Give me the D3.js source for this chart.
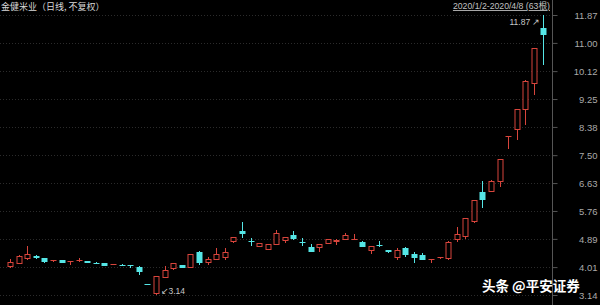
<!DOCTYPE html>
<html><head><meta charset="utf-8">
<script src="https://cdn.jsdelivr.net/npm/d3@7/dist/d3.min.js"></script>
<style>html,body{margin:0;padding:0;background:#000;overflow:hidden}</style>
</head><body><svg id="c" width="600" height="305"></svg>
<script>
const dates = ["2020-01-02","2020-01-03","2020-01-06","2020-01-07","2020-01-08","2020-01-09","2020-01-10","2020-01-13","2020-01-14","2020-01-15","2020-01-16","2020-01-17","2020-01-20","2020-01-21","2020-01-22","2020-01-23",
"2020-02-03","2020-02-04","2020-02-05","2020-02-06","2020-02-07","2020-02-10","2020-02-11","2020-02-12","2020-02-13","2020-02-14","2020-02-17","2020-02-18","2020-02-19","2020-02-20","2020-02-21","2020-02-24","2020-02-25","2020-02-26","2020-02-27","2020-02-28",
"2020-03-02","2020-03-03","2020-03-04","2020-03-05","2020-03-06","2020-03-09","2020-03-10","2020-03-11","2020-03-12","2020-03-13","2020-03-16","2020-03-17","2020-03-18","2020-03-19","2020-03-20","2020-03-23","2020-03-24","2020-03-25","2020-03-26","2020-03-27","2020-03-30","2020-03-31",
"2020-04-01","2020-04-02","2020-04-03","2020-04-07","2020-04-08"];
const open  = [4.02,4.12,4.26,4.36,4.29,4.19,4.23,4.20,4.21,4.20,4.15,4.13,4.08,4.09,4.06,4.02,3.48,3.17,3.68,3.94,4.08,3.99,4.49,4.13,4.23,4.28,4.78,5.14,4.81,4.65,4.54,4.70,4.83,5.01,4.78,4.65,4.60,4.73,4.78,4.86,4.87,4.80,4.52,4.71,4.54,4.28,4.60,4.41,4.39,4.26,4.28,4.25,4.86,4.96,5.43,6.36,6.36,6.67,8.10,8.29,8.91,9.72,11.46];
const high  = [4.26,4.38,4.67,4.39,4.30,4.23,4.24,4.21,4.29,4.21,4.16,4.14,4.11,4.10,4.06,4.03,3.49,3.74,4.05,4.14,4.09,4.42,4.51,4.33,4.60,4.60,4.95,5.43,4.92,4.77,4.73,5.17,4.95,5.14,4.92,4.73,4.74,4.89,4.88,5.06,5.04,4.81,4.68,4.83,4.55,4.60,4.65,4.49,4.44,4.27,4.34,4.81,5.27,5.54,6.11,6.70,6.71,7.38,8.11,8.94,9.83,10.84,11.87];
const low   = [3.98,4.10,4.23,4.27,4.15,4.18,4.14,4.08,4.17,4.14,4.12,4.04,4.07,4.06,3.97,3.76,3.47,3.14,3.67,3.93,3.98,3.98,4.08,4.08,4.22,4.23,4.77,4.93,4.68,4.63,4.53,4.69,4.76,4.87,4.67,4.48,4.49,4.72,4.70,4.85,4.87,4.64,4.41,4.65,4.46,4.23,4.33,4.15,4.22,4.13,4.27,4.24,4.80,4.88,5.38,5.84,6.35,6.52,7.69,7.97,8.44,9.38,10.31];
const close = [4.18,4.36,4.41,4.30,4.16,4.22,4.15,4.21,4.23,4.15,4.13,4.05,4.10,4.07,4.04,3.85,3.47,3.73,3.92,4.13,3.99,4.41,4.13,4.25,4.41,4.49,4.94,5.03,4.80,4.75,4.72,5.06,4.94,4.88,4.77,4.49,4.73,4.88,4.86,5.01,4.88,4.65,4.67,4.70,4.47,4.54,4.39,4.28,4.23,4.27,4.33,4.80,5.03,5.53,6.10,6.10,6.70,7.37,8.11,8.93,9.82,10.83,11.25];
const yTicks = [3.14,4.01,4.89,5.76,6.63,7.50,8.38,9.25,10.12,11.00,11.87];
const titleText = "金健米业（日线, 不复权）";
const rangeText = "2020/1/2-2020/4/8 (63根)";
const watermark = "头条 @平安证券";

const RED = "#d8453c", CYAN = "#55e6e6";
const svg = d3.select("#c");
svg.append("rect").attr("width",600).attr("height",305).attr("fill","#000");

const x = d3.scaleBand().domain(d3.range(dates.length)).range([5.7, 546.9]);
const y = d3.scaleLinear().domain([3.14, 11.87]).range([295, 15]);
const AX = 552;

// grid
svg.append("g").selectAll("line").data(yTicks).join("line")
  .attr("x1",0).attr("x2",AX).attr("y1",d=>Math.round(y(d))+0.5).attr("y2",d=>Math.round(y(d))+0.5)
  .attr("stroke","#2b2b2b").attr("stroke-width",1).attr("stroke-dasharray","1,2");

// axis
const axis = d3.axisRight(y).tickValues(yTicks).tickFormat(d3.format(".2f")).tickSize(5).tickPadding(0);
const ag = svg.append("g").attr("transform",`translate(${AX+0.5},0)`).call(axis);
ag.select(".domain").attr("stroke","#555").attr("d","M0,0V305");
ag.selectAll(".tick line").attr("stroke","#555");
ag.selectAll(".tick text").attr("x",45).attr("text-anchor","end").attr("fill","#aaaaaa")
  .attr("font-family","Liberation Sans, Arial, sans-serif").attr("font-size",9.5).attr("dy","0.35em");

// candles
const idx = d3.range(dates.length);
const cg = svg.append("g");
const cx = i => Math.round(x(i) + x.bandwidth()/2) + 0.5;
const bw = 5;
idx.forEach(i=>{
  const up = close[i] >= open[i];
  const col = up ? RED : CYAN;
  cg.append("line").attr("x1",cx(i)).attr("x2",cx(i))
    .attr("y1",Math.round(y(high[i]))).attr("y2",Math.round(y(low[i])))
    .attr("stroke",col).attr("stroke-width",1);
  const top = Math.round(y(Math.max(open[i],close[i])));
  const bot = Math.round(y(Math.min(open[i],close[i])));
  const h = Math.max(bot-top, 1);
  if (up) {
    cg.append("rect").attr("x",cx(i)-bw/2).attr("y",top+0.5).attr("width",bw).attr("height",Math.max(h-1,0.01))
      .attr("fill","#000").attr("stroke",col).attr("stroke-width",1);
  } else {
    cg.append("rect").attr("x",cx(i)-bw/2-0.5).attr("y",top).attr("width",bw+1).attr("height",h)
      .attr("fill",col);
  }
});

// max/min annotations
const iMax = d3.maxIndex(high), iMin = d3.minIndex(low);
svg.append("text").attr("x",cx(iMax)-3).attr("y",y(high[iMax])+10).attr("text-anchor","end")
  .attr("fill","#c8c8c8").attr("font-family","Liberation Sans, Arial, sans-serif").attr("font-size",8.5)
  .text(d3.format(".2f")(high[iMax]) + " ↗");
svg.append("text").attr("x",cx(iMin)+4).attr("y",y(low[iMin])-1).attr("text-anchor","start")
  .attr("fill","#c8c8c8").attr("font-family","Liberation Sans, Arial, sans-serif").attr("font-size",8.5)
  .text("↙" + d3.format(".2f")(low[iMin]));

// title
svg.append("text").attr("x",1).attr("y",10).attr("fill","#d8d8d8")
  .attr("font-family","Noto Sans CJK SC, sans-serif").attr("font-size",9).text(titleText);
svg.append("text").attr("x",550).attr("y",9).attr("text-anchor","end").attr("fill","#c0c0c0")
  .attr("font-family","Liberation Sans, Noto Sans CJK SC, sans-serif").attr("font-size",8.7)
  .attr("text-decoration","underline").text(rangeText);

// watermark
svg.append("text").attr("x",482).attr("y",291).attr("fill","#fff")
  .attr("font-family","Noto Sans CJK SC, sans-serif").attr("font-size",13.5).attr("font-weight",700)
  .text(watermark);
</script></body></html>
